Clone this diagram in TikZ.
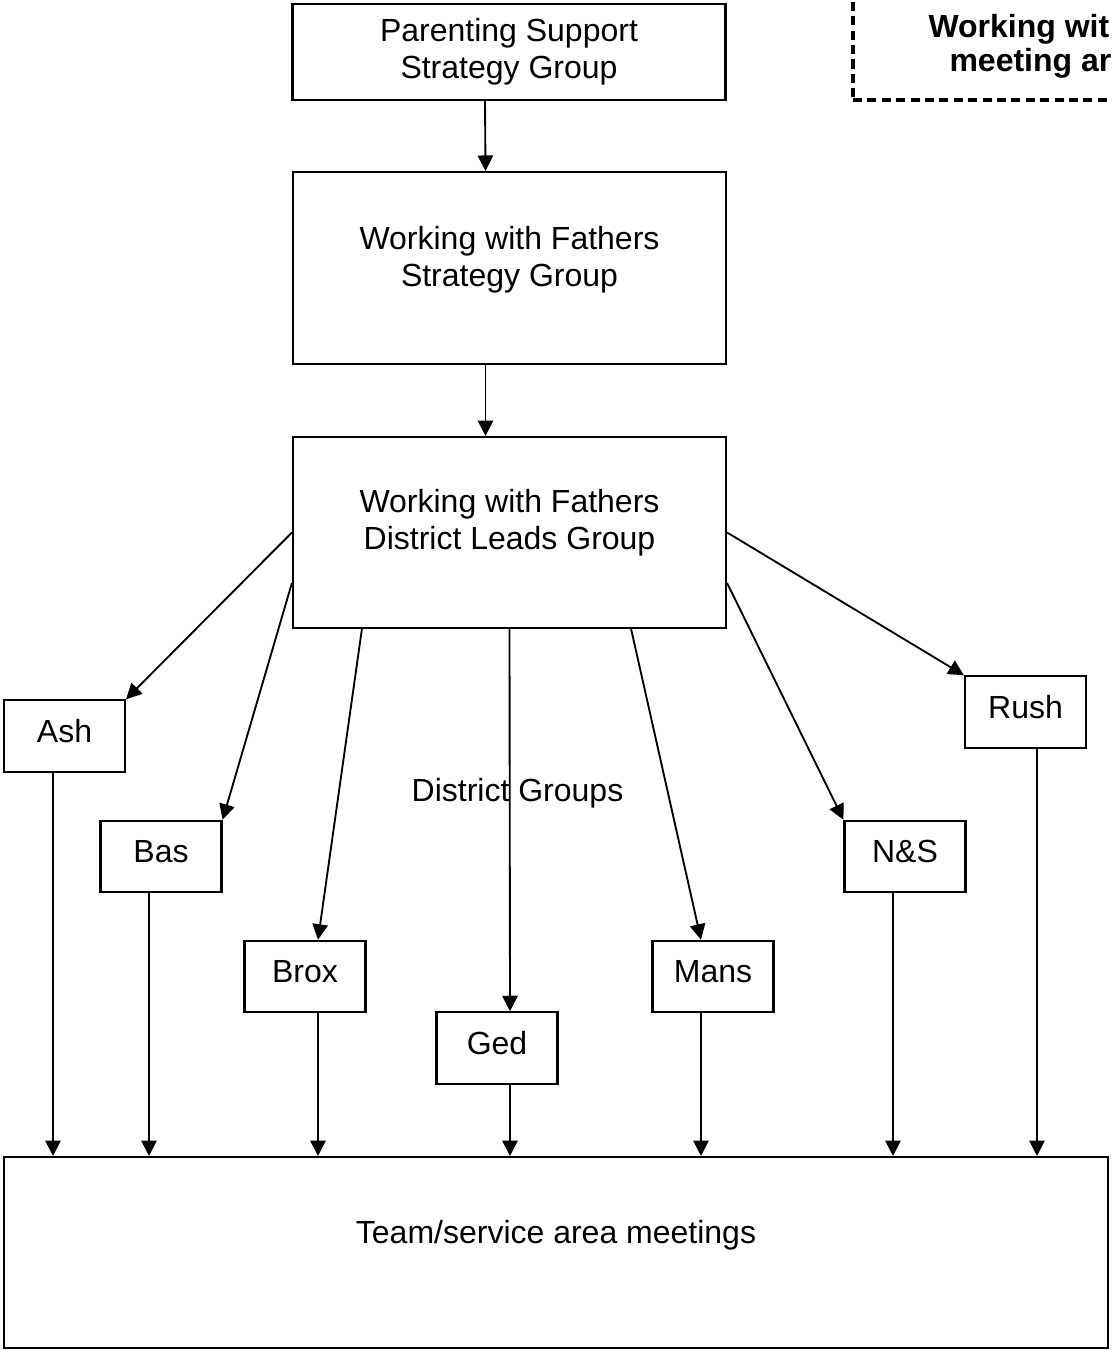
\documentclass[tikz,border=0pt]{standalone}
\usepackage{fontspec}
\setmainfont{Liberation Sans}
\usepackage{tikz}
\usetikzlibrary{
  arrows.meta,
  positioning,
  calc
}

\begin{document}
\begin{tikzpicture}[x=0.375pt, y=-0.375pt, font=\fontsize{12}{13.8}\selectfont,
  box/.style={draw, line width=0.8pt, inner sep=0pt},
  bigbox/.style={box, minimum width=162.4pt},
  distbox/.style={box, minimum width=45.4pt, minimum height=26.8pt, text height=9pt, text depth=4.5pt},
  arr/.style={line width=0.7pt, -{Triangle[length=5.8pt, width=5.8pt]}},
  notebox/.style={draw, dash pattern=on 3.4pt off 2pt, line width=1.4pt},
  notetext/.style={anchor=base west, inner sep=0pt, font=\fontsize{12}{13.8}\selectfont\bfseries}]
  \useasboundingbox (0,0) rectangle (1111,1350);
  \clip (0,0) rectangle (1111,1350);

  \node[bigbox, minimum height=36pt, align=center] (psg) at (509,52) {Parenting Support\\Strategy Group};
  \node[bigbox, minimum height=72pt] (wfsg) at (509.5,268) {};
  \node[align=center] (wfsgtext) at (509.5,260) {Working with Fathers\\Strategy Group};
  \node[bigbox, minimum height=71.6pt] (dlg) at (509.5,532.5) {};
  \node[align=center] (dlgtext) at (509.5,523) {Working with Fathers\\District Leads Group};
  \node[box, minimum width=414pt, minimum height=71.6pt] (tms) at (556,1252.5) {};
  \node (tmstext) at (556,1235) {Team/service area meetings};
  \node (dglabel) at (517.5,793) {District Groups};

  \foreach \n/\x/\y/\name in {ash/64.5/736/Ash, bas/161/856.5/Bas, brox/305/976.5/Brox, ged/497/1048/Ged, mans/713/976.5/Mans, ns/905/856.5/N\&S, rush/1025.5/712/Rush}{
    \node[distbox] (\n) at (\x,\y) {\name};
  }

  \node[notebox, minimum width=148.9pt, minimum height=45pt] (note) at (1051.5,40) {};
  \node[notetext] (notetop) at (928,37) {Working wit};
  \node[notetext] (notebot) at (949,71) {meeting ar};

  \draw[arr] ($(psg.south)+(-24,0)$) -- ($(wfsg.north)+(-24,0)$);
  \draw[arr] ($(wfsg.south)+(-24,0)$) -- ($(dlg.north)+(-24,0)$);
  \draw[arr] (dlg.west) -- (ash.north east);
  \draw[arr] ($(dlg.south west)+(0,-46)$) -- (bas.north east);
  \draw[arr] ($(dlg.south west)+(70,0)$) -- ($(brox.north)+(13,0)$);
  \draw[arr] (dlg.south) -- ($(ged.north)+(13,0)$);
  \draw[arr] ($(dlg.south east)+(-96,0)$) -- ($(mans.north)+(-12,0)$);
  \draw[arr] ($(dlg.south east)+(0,-46)$) -- (ns.north west);
  \draw[arr] (dlg.east) -- (rush.north west);

  \foreach \n/\dx in {ash/-11.5, bas/-12, brox/13, ged/13, mans/-12, ns/-12, rush/11.5}{
    \coordinate (\n foot) at ($(\n.south)+(\dx,0)$);
    \draw[arr] (\n foot) -- (\n foot |- tms.north);
  }
\end{tikzpicture}
\end{document}
